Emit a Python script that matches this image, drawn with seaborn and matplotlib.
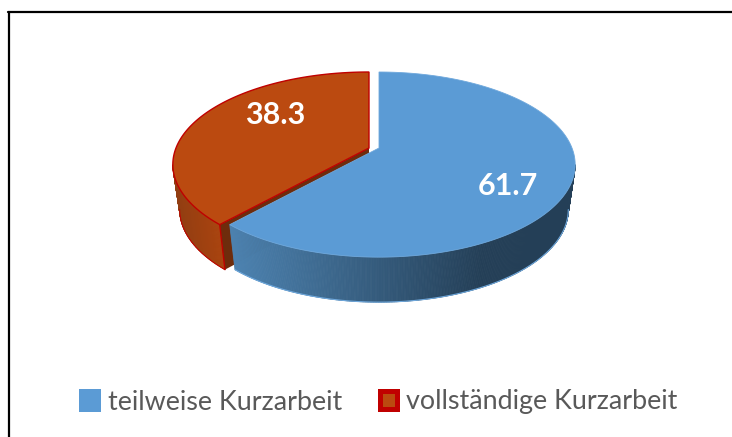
import numpy as np
import matplotlib.pyplot as plt
import seaborn as sns
from matplotlib.colors import to_rgb
from matplotlib.patches import Patch

categories = ['teilweise Kurzarbeit', 'vollständige Kurzarbeit']
values = [61.7, 38.3]
value_labels = ['61.7', '38.3']

BLUE, ORANGE = sns.color_palette(['#5B9BD5', '#BB4A10'])
RED = '#C00000'
BLUE_EDGE = '#6FA8DC'

# pie geometry in pixels, the tilted disc is a perspective view of a unit circle
APEX_Y = 148
SCALE_X, SCALE_Y = 193, 89.6
TILT = 0.179
DEPTH = 45
BOTTOM_X = 0.965
RIM = np.arcsin(TILT)  # where the side wall starts to show


def project(theta, apex_x, bottom=False):
    u, v = np.cos(theta), np.sin(theta)
    w = 1 + TILT * v
    x, y = SCALE_X * u / w, -SCALE_Y * v / w
    if bottom:
        return apex_x + x * BOTTOM_X, APEX_Y + y + DEPTH
    return apex_x + x, APEX_Y + y


def side_strip(ax, thetas, apex_x, left_col, right_col, x_range, zorder):
    """Side wall of a slice, shaded from left to right in thin strips."""
    xt, yt = project(thetas, apex_x)
    xb, yb = project(thetas, apex_x, bottom=True)
    left_col, right_col = np.array(to_rgb(left_col)), np.array(to_rgb(right_col))
    for i in range(len(thetas) - 1):
        f = np.clip((xb[i] - x_range[0]) / (x_range[1] - x_range[0]), 0, 1)
        c = left_col + (right_col - left_col) * f
        ax.fill([xt[i], xt[i + 1], xb[i + 1], xb[i]],
                [yt[i], yt[i + 1], yb[i + 1], yb[i]],
                color=c, lw=0.6, zorder=zorder)


sns.set_theme(style='white')
plt.rcParams['font.family'] = ['Lato', 'DejaVu Sans']

fig = plt.figure(figsize=(7.32, 4.37), dpi=100)
ax = fig.add_axes([0, 0, 1, 1])
ax.set_xlim(0, 732)
ax.set_ylim(437, 0)
ax.axis('off')

# slices run clockwise from 12 o'clock
blue_sweep = 2 * np.pi * values[0] / sum(values)
split = np.pi / 2 - blue_sweep
blue_t = np.linspace(np.pi / 2, split, 400)
orange_t = np.linspace(split, split - (2 * np.pi - blue_sweep), 200)
blue_x, orange_x = 379, 369

# orange slice
vis = np.linspace(split, -np.pi + RIM, 80)
side_strip(ax, vis, orange_x, '#8F3D12', '#A8430F', (175, 222), 2)
xb, yb = project(vis, orange_x, bottom=True)
ax.plot(xb, yb, color=RED, lw=0.7, zorder=2.5)
xc, yc = project(split, orange_x)
xcb, ycb = project(split, orange_x, bottom=True)
ax.fill([xc, orange_x, orange_x, xcb], [yc, APEX_Y, APEX_Y + DEPTH, ycb],
        color='#6E2C0C', lw=0, zorder=2.6)
ax.plot([xc, xcb], [yc, ycb], color=RED, lw=1.0, zorder=2.7)
xo, yo = project(orange_t, orange_x)
ax.fill(np.r_[orange_x, xo], np.r_[APEX_Y, yo], facecolor=ORANGE,
        edgecolor=RED, lw=1.0, joinstyle='miter', zorder=3)

# blue slice
vis = np.linspace(-RIM, split, 300)
side_strip(ax, vis, blue_x, '#4C82B0', '#243F57', (236, 480), 3.4)
xb, yb = project(vis, blue_x, bottom=True)
ax.plot(xb, yb, color=BLUE_EDGE, lw=0.8, zorder=3.5)
xt, yt = project(blue_t, blue_x)
ax.fill(np.r_[blue_x, xt], np.r_[APEX_Y, yt], facecolor=BLUE,
        edgecolor=BLUE_EDGE, lw=0.6, zorder=4)

# value labels
ax.text(508, 186, value_labels[0], color='white', fontsize=22, fontweight='bold',
        ha='center', va='center', zorder=5)
ax.text(275, 115, value_labels[1], color='white', fontsize=22, fontweight='bold',
        ha='center', va='center', zorder=5)

# frame is only visible on the top and left, the image is cropped on the others
ax.plot([9, 9], [12, 437], color='black', lw=1.6, zorder=6)
ax.plot([8, 732], [12, 12], color='black', lw=1.6, zorder=6)

handles = [Patch(facecolor=BLUE, edgecolor=BLUE, lw=3.6),
           Patch(facecolor=ORANGE, edgecolor=RED, lw=3.6)]
ax.legend(handles, categories, loc='center', bbox_to_anchor=(379.5 / 732, 1 - 402 / 437),
          ncol=2, frameon=False, fontsize=19.4, labelcolor='#595959', handlelength=0.63,
          handleheight=0.63, handletextpad=0.35, columnspacing=1.4, borderpad=0)

fig.savefig('out.png', dpi=100)
